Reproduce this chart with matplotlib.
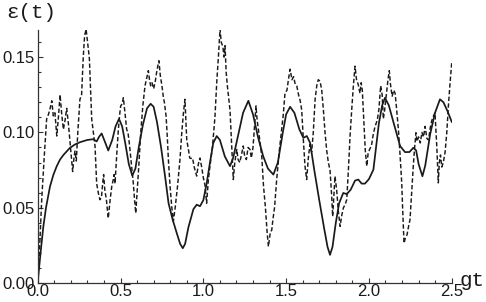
import matplotlib
matplotlib.use("Agg")
import matplotlib.pyplot as plt
from matplotlib.ticker import MultipleLocator

# solid curve: t, eps(t)
t_solid = [0.0, 0.01, 0.02, 0.034, 0.05, 0.074, 0.095, 0.115, 0.135, 0.155, 0.195, 0.225,
           0.255, 0.3, 0.336, 0.356, 0.37, 0.386, 0.405, 0.426, 0.45, 0.47, 0.491, 0.51,
           0.53, 0.55, 0.571, 0.59, 0.61, 0.635, 0.66, 0.682, 0.70, 0.72, 0.745, 0.77,
           0.79, 0.815, 0.84, 0.86, 0.876, 0.89, 0.91, 0.94, 0.96, 0.98, 1.00, 1.02,
           1.04, 1.06, 1.081, 1.10, 1.13, 1.161, 1.18, 1.21, 1.24, 1.272, 1.30, 1.33,
           1.362, 1.39, 1.423, 1.45, 1.48, 1.50, 1.524, 1.55, 1.58, 1.604, 1.625, 1.645,
           1.67, 1.70, 1.73, 1.75, 1.765, 1.78, 1.80, 1.82, 1.845, 1.866, 1.89, 1.916,
           1.936, 1.956, 1.976, 2.00, 2.027, 2.045, 2.06, 2.08, 2.097, 2.12, 2.15, 2.188,
           2.218, 2.245, 2.268, 2.285, 2.30, 2.323, 2.34, 2.37, 2.399, 2.429, 2.45, 2.475,
           2.5]
e_solid = [0.0, 0.012, 0.023, 0.0375, 0.050, 0.064, 0.072, 0.0776, 0.082, 0.085, 0.0898, 0.092,
           0.0935, 0.095, 0.0955, 0.094, 0.097, 0.0993, 0.094, 0.088, 0.095, 0.104, 0.109, 0.104,
           0.092, 0.079, 0.0713, 0.076, 0.090, 0.105, 0.116, 0.119, 0.117, 0.107, 0.090, 0.070,
           0.053, 0.042, 0.033, 0.026, 0.0231, 0.026, 0.037, 0.049, 0.052, 0.051, 0.055, 0.066,
           0.080, 0.093, 0.0976, 0.095, 0.084, 0.0776, 0.083, 0.098, 0.113, 0.121, 0.112, 0.097,
           0.084, 0.076, 0.072, 0.080, 0.100, 0.112, 0.117, 0.113, 0.102, 0.0964, 0.0976, 0.093,
           0.075, 0.055, 0.036, 0.024, 0.0187, 0.024, 0.040, 0.053, 0.0598, 0.059, 0.062, 0.068,
           0.0687, 0.066, 0.066, 0.069, 0.0753, 0.092, 0.106, 0.118, 0.123, 0.118, 0.106, 0.091,
           0.0869, 0.087, 0.0898, 0.088, 0.079, 0.0709, 0.078, 0.099, 0.113, 0.122, 0.120, 0.114,
           0.107]

# dashed curve: t, eps(t)
t_dash = [0.0, 0.012, 0.024, 0.04, 0.054, 0.065, 0.075, 0.085, 0.094, 0.104, 0.115, 0.125,
          0.135, 0.145, 0.155, 0.165, 0.175, 0.185, 0.195, 0.203, 0.211, 0.218, 0.225, 0.233,
          0.242, 0.255, 0.265, 0.275, 0.283, 0.292, 0.30, 0.312, 0.32, 0.326, 0.336, 0.346,
          0.356, 0.366, 0.376, 0.385, 0.392, 0.398, 0.405, 0.415, 0.426, 0.437, 0.447, 0.455,
          0.461, 0.467, 0.477, 0.487, 0.495, 0.501, 0.51, 0.517, 0.527, 0.537, 0.545, 0.553,
          0.565, 0.577, 0.585, 0.592, 0.60, 0.61, 0.622, 0.635, 0.648, 0.658, 0.668, 0.675,
          0.682, 0.69, 0.70, 0.71, 0.718, 0.725, 0.732, 0.74, 0.75, 0.758, 0.765, 0.775,
          0.782, 0.789, 0.80, 0.809, 0.819, 0.83, 0.845, 0.859, 0.87, 0.88, 0.889, 0.895,
          0.90, 0.91, 0.918, 0.925, 0.935, 0.945, 0.96, 0.97, 0.98, 0.99, 1.00, 1.01,
          1.02, 1.03, 1.04, 1.055, 1.07, 1.082, 1.091, 1.101, 1.108, 1.118, 1.125, 1.131,
          1.138, 1.145, 1.161, 1.17, 1.181, 1.19, 1.202, 1.21, 1.22, 1.23, 1.241, 1.25,
          1.26, 1.27, 1.282, 1.29, 1.30, 1.31, 1.318, 1.325, 1.335, 1.345, 1.353, 1.363,
          1.375, 1.385, 1.393, 1.40, 1.405, 1.413, 1.42, 1.43, 1.443, 1.458, 1.473, 1.483,
          1.493, 1.505, 1.515, 1.524, 1.535, 1.545, 1.555, 1.564, 1.575, 1.585, 1.594, 1.604,
          1.614, 1.624, 1.634, 1.644, 1.654, 1.664, 1.675, 1.685, 1.694, 1.705, 1.715, 1.725,
          1.735, 1.745, 1.755, 1.765, 1.775, 1.781, 1.788, 1.795, 1.805, 1.815, 1.826, 1.836,
          1.846, 1.856, 1.866, 1.876, 1.886, 1.896, 1.906, 1.916, 1.925, 1.935, 1.946, 1.953,
          1.96, 1.968, 1.978, 1.987, 1.995, 2.005, 2.015, 2.025, 2.037, 2.05, 2.06, 2.071,
          2.08, 2.087, 2.095, 2.105, 2.115, 2.123, 2.13, 2.14, 2.15, 2.158, 2.165, 2.178,
          2.188, 2.198, 2.205, 2.212, 2.22, 2.23, 2.24, 2.248, 2.258, 2.268, 2.276, 2.284,
          2.29, 2.30, 2.31, 2.32, 2.33, 2.339, 2.35, 2.36, 2.37, 2.38, 2.39, 2.399,
          2.41, 2.419, 2.425, 2.432, 2.44, 2.449, 2.46, 2.47, 2.48, 2.49, 2.5]
e_dash = [0.0, 0.025, 0.055, 0.085, 0.109, 0.112, 0.116, 0.121, 0.111, 0.113, 0.0976, 0.11,
          0.125, 0.112, 0.102, 0.108, 0.116, 0.106, 0.094, 0.085, 0.074, 0.082, 0.0876, 0.081,
          0.10, 0.122, 0.125, 0.15, 0.164, 0.1685, 0.161, 0.149, 0.125, 0.109, 0.10, 0.091,
          0.066, 0.0598, 0.0553, 0.057, 0.066, 0.072, 0.062, 0.055, 0.043, 0.055, 0.064, 0.068,
          0.072, 0.066, 0.085, 0.102, 0.112, 0.1176, 0.119, 0.123, 0.113, 0.102, 0.100, 0.093,
          0.080, 0.0665, 0.055, 0.0464, 0.060, 0.077, 0.0998, 0.118, 0.131, 0.136, 0.141, 0.135,
          0.131, 0.133, 0.129, 0.134, 0.1398, 0.144, 0.1476, 0.138, 0.131, 0.124, 0.1198, 0.111,
          0.098, 0.082, 0.063, 0.051, 0.041, 0.050, 0.065, 0.082, 0.100, 0.113, 0.122, 0.108,
          0.095, 0.0887, 0.083, 0.0827, 0.083, 0.077, 0.071, 0.079, 0.083, 0.077, 0.07, 0.065,
          0.053, 0.068, 0.0776, 0.090, 0.110, 0.135, 0.15, 0.1687, 0.160, 0.157, 0.150, 0.1576,
          0.140, 0.131, 0.115, 0.094, 0.0687, 0.080, 0.0887, 0.082, 0.080, 0.085, 0.091, 0.084,
          0.082, 0.090, 0.0887, 0.083, 0.090, 0.105, 0.1176, 0.108, 0.100, 0.091, 0.084, 0.065,
          0.050, 0.034, 0.0242, 0.030, 0.034, 0.035, 0.042, 0.05, 0.0687, 0.087, 0.102, 0.112,
          0.126, 0.128, 0.136, 0.142, 0.135, 0.137, 0.132, 0.131, 0.125, 0.121, 0.115, 0.095,
          0.0776, 0.0687, 0.083, 0.092, 0.087, 0.1, 0.122, 0.131, 0.135, 0.134, 0.128, 0.115,
          0.0998, 0.088, 0.080, 0.075, 0.058, 0.0442, 0.058, 0.0709, 0.062, 0.048, 0.0376, 0.045,
          0.050, 0.052, 0.0553, 0.075, 0.0976, 0.115, 0.131, 0.144, 0.135, 0.132, 0.126, 0.133,
          0.128, 0.11, 0.088, 0.0776, 0.086, 0.089, 0.091, 0.098, 0.104, 0.108, 0.115, 0.131,
          0.125, 0.109, 0.115, 0.125, 0.135, 0.141, 0.132, 0.124, 0.128, 0.126, 0.118, 0.102,
          0.085, 0.0665, 0.045, 0.0264, 0.030, 0.032, 0.038, 0.042, 0.060, 0.078, 0.090, 0.0998,
          0.094, 0.097, 0.093, 0.100, 0.097, 0.104, 0.096, 0.095, 0.103, 0.108, 0.111, 0.113,
          0.090, 0.0665, 0.080, 0.085, 0.077, 0.080, 0.087, 0.0998, 0.118, 0.133, 0.1464]

x_ticks = [0.0, 0.5, 1.0, 1.5, 2.0, 2.5]
y_ticks = [0.00, 0.05, 0.10, 0.15]

INK = "#1a1a1a"
AXIS = "#333333"

fig = plt.figure(figsize=(4.86, 3.02), dpi=100)
fig.patch.set_facecolor("white")
ax = fig.add_axes([0.0776, 0.0629, 0.8519, 0.8377])

ax.plot(t_solid, e_solid, color=INK, lw=1.25, solid_joinstyle="round")
ax.plot(t_dash, e_dash, color=INK, lw=1.05, linestyle=(0, (3.0, 1.6)))

ax.set_xlim(0, 2.5)
ax.set_ylim(0, 0.168)
for sp in ("top", "right"):
    ax.spines[sp].set_visible(False)
for sp in ("left", "bottom"):
    ax.spines[sp].set_color(AXIS)
    ax.spines[sp].set_linewidth(0.9)

ax.set_xticks(x_ticks)
ax.set_xticklabels([f"{v:.1f}" for v in x_ticks])
ax.set_yticks(y_ticks)
ax.set_yticklabels([f"{v:.2f}" for v in y_ticks])
ax.xaxis.set_minor_locator(MultipleLocator(0.1))
ax.yaxis.set_minor_locator(MultipleLocator(0.01))
ax.tick_params(which="both", direction="in", color=AXIS, width=0.8,
               labelsize=12, labelcolor=INK)
ax.tick_params(which="major", length=3.5)
ax.tick_params(which="minor", length=2)
ax.tick_params(axis="y", pad=2)
ax.tick_params(axis="x", pad=1)
for lab in ax.get_xticklabels() + ax.get_yticklabels():
    lab.set_family("Liberation Sans")

fig.text(6 / 486, 1 - 18 / 302, "ε(t)", family="Liberation Mono", fontsize=15,
         color=INK, ha="left", va="baseline")
fig.text(459 / 486, 16 / 302, "gt", family="Liberation Mono", fontsize=15,
         color=INK, ha="left", va="baseline")

fig.savefig("out.png", dpi=100, facecolor="white")
